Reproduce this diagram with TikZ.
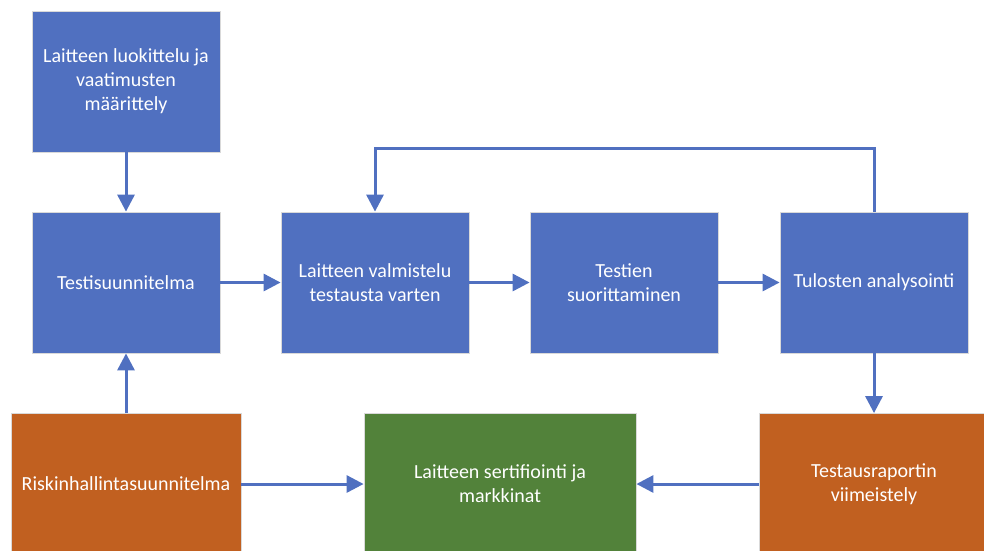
\documentclass[tikz,border=0pt]{standalone}
\usepackage{fontspec}
\setmainfont{Carlito}
\usetikzlibrary{positioning, shapes.geometric, arrows.meta}
\definecolor{boxblue}{RGB}{80,112,192}
\definecolor{boxorange}{RGB}{193,96,32}
\definecolor{boxgreen}{RGB}{82,130,58}

\begin{document}
\begin{tikzpicture} [x=1pt, y=-1pt,
    box/.style={rectangle, draw=gray!30, line width=0.8pt, text=white, align=center,
                inner sep=0pt, minimum height=141pt, font=\fontsize{20}{24}\selectfont},
    bluebox/.style={box, fill=boxblue, minimum width=188pt},
    orangebox/.style={box, fill=boxorange, minimum width=230pt},
    greenbox/.style={box, fill=boxgreen, minimum width=272pt},
    flow/.style={draw=boxblue, line width=3pt, -{Triangle[width=17pt,length=17pt]}}]
  \clip (0,0) rectangle (984,550);

  \draw (126,81.5) node[bluebox] (luok) {Laitteen luokittelu ja\\vaatimusten\\määrittely};
  \draw (126,282.5) node[bluebox] (suun) {Testisuunnitelma};
  \draw (375,282.5) node[bluebox] (valm) {Laitteen valmistelu\\testausta varten};
  \draw (624,282.5) node[bluebox] (suor) {Testien\\suorittaminen};
  \draw (874,282.5) node[bluebox] (anal) {Tulosten analysointi};

  \draw (126,484) node[orangebox] (risk) {Riskinhallintasuunnitelma};
  \draw (500,484) node[greenbox] (sert) {Laitteen sertifiointi ja\\markkinat};
  \draw (874,484) node[orangebox] (rap) {Testausraportin\\viimeistely};

  \path (luok) edge[flow] (suun)
        (suun) edge[flow] (valm)
        (valm) edge[flow] (suor)
        (suor) edge[flow] (anal)
        (anal) edge[flow] (rap)
        (risk) edge[flow] (suun)
        (risk) edge[flow] (sert)
        (rap) edge[flow] (sert);

  % paluu analyysista valmisteluun
  \coordinate (paluu) at (874,148);
  \draw [flow] (anal.north) -- (paluu) -| (valm.north);
\end{tikzpicture}
\end{document}
